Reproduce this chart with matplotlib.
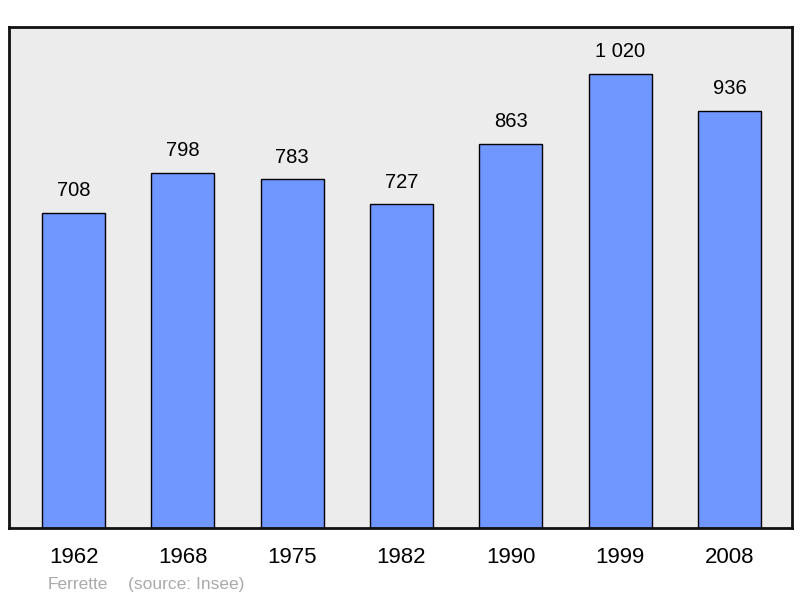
import numpy as np
import matplotlib
matplotlib.use("Agg")
import matplotlib.pyplot as plt

years = ['1962', '1968', '1975', '1982', '1990', '1999', '2008']
population = [708, 798, 783, 727, 863, 1020, 936]
value_labels = ['708', '798', '783', '727', '863', '1 020', '936']
town = 'Ferrette'
source = '(source: Insee)'

plt.rcParams['font.family'] = ['Liberation Sans', 'DejaVu Sans']

fig = plt.figure(figsize=(8, 5.98), dpi=100)
ax = fig.add_axes([9/800, 70/598, 783/800, 501/598])
ax.set_facecolor('#ececec')

x = np.arange(len(years))
ax.bar(x, population, width=0.578, color='#7096ff', edgecolor='black', linewidth=1.0)

for xi, v, lab in zip(x, population, value_labels):
    ax.annotate(lab, (xi, v), xytext=(0, 16), textcoords='offset points',
                ha='center', va='center', fontsize=14.5, color='#000000')

ax.set_xlim(-0.59, 6.572)
ax.set_ylim(0, 1125)
ax.set_xticks(x)
ax.set_xticklabels(years, fontsize=16)
ax.set_yticks([])
ax.tick_params(axis='x', length=0, pad=14)
for s in ax.spines.values():
    s.set_linewidth(2)
    s.set_color('#111111')

# footer, both parts on the same baseline
fig.text(48/800, 1 - 589/598, town, fontsize=12.5, color='#aaaaaa', va='baseline')
fig.text(128/800, 1 - 589/598, source, fontsize=12.5, color='#aaaaaa', va='baseline')

fig.savefig('out.png', dpi=100, facecolor='white')
